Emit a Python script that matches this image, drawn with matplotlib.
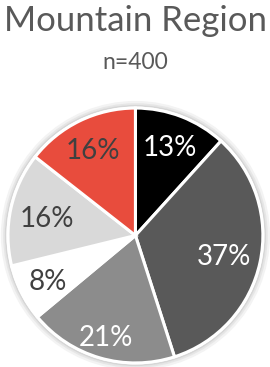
import matplotlib
matplotlib.use("Agg")
import numpy as np
import matplotlib.pyplot as plt
from matplotlib.patches import Circle

plt.rcParams['font.family'] = ['Lato', 'DejaVu Sans']

title = "Mountain Region"
subtitle = "n=400"
categories = ["A", "B", "C", "D", "E", "F"]
values = [13, 37, 21, 8, 16, 16]
labels = ["13%", "37%", "21%", "8%", "16%", "16%"]
colors = ["#000000", "#595959", "#8c8c8c", "#ffffff", "#d9d9d9", "#e84c3d"]
label_colors = ["#ffffff", "#ffffff", "#ffffff", "#404040", "#404040", "#404040"]
label_radius = [0.76, 0.71, 0.82, 0.77, 0.71, 0.76]

fig = plt.figure(figsize=(2.7, 3.67), dpi=100)
fig.text(0.5, 0.942, title, ha="center", va="center", fontsize=25, color="#595959")
fig.text(0.5, 0.83, subtitle, ha="center", va="center", fontsize=16.5, color="#595959")

ax = fig.add_axes([0.0296, 0.0109, 0.944, 0.6948])
wedges, texts = ax.pie(
    values, colors=colors, startangle=90, counterclock=False,
    wedgeprops=dict(edgecolor="white", linewidth=2.2))
for w, lab, c, rr in zip(wedges, labels, label_colors, label_radius):
    ang = np.deg2rad((w.theta1 + w.theta2) / 2)
    ax.text(rr * np.cos(ang), rr * np.sin(ang), lab, ha="center", va="center_baseline",
            fontsize=20, color=c)
for r, col, lw in [(1.045, "#f3f3f3", 2.0), (1.03, "#e6e6e6", 1.5), (1.018, "#d6d6d6", 1.2)]:
    ax.add_patch(Circle((0, 0), r, fill=False, edgecolor=col, linewidth=lw, zorder=0, clip_on=False))
ax.set_xlim(-1, 1)
ax.set_ylim(-1, 1)
ax.set_aspect("equal")
ax.axis("off")
fig.savefig("out.png", dpi=100)
